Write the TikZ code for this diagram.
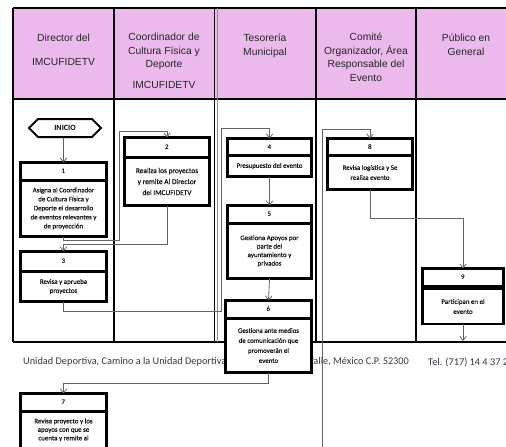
\documentclass[tikz,border=0pt]{standalone}
\usepackage{fontspec}
\setmainfont{Carlito}
\newfontfamily\arialfont{Liberation Sans}
\newfontface\taskfont[FakeBold=0.7]{Carlito}
\usetikzlibrary{positioning,shapes.symbols,arrows.meta}
\definecolor{lanepink}{RGB}{235,185,235}
\definecolor{flowgray}{RGB}{100,100,100}
\definecolor{footgray}{RGB}{60,55,70}

\begin{document}
\begin{tikzpicture}[x=1pt,y=-1pt]
    \tikzstyle{lanehead} = [anchor=north, align=center, inner sep=0pt, text=black!85, font=\arialfont\fontsize{10.3}{13.5}\selectfont]
    \tikzstyle{num} = [draw, line width=2.8pt, fill=white, outer sep=0pt, inner sep=0pt, font=\fontsize{7}{8}\selectfont\bfseries]
    \tikzstyle{task} = [draw, line width=2.8pt, fill=white, outer sep=0pt, inner sep=0pt, align=center, text=black!90, font=\taskfont\fontsize{6.9}{9}\selectfont]
    \tikzstyle{start} = [draw, line width=2pt, fill=white, signal, signal to=west and east, minimum width=72pt, minimum height=18pt, inner sep=0pt, font=\fontsize{8}{9}\selectfont\bfseries]
    \tikzstyle{flow} = [draw=flowgray, line width=0.8pt, -{Straight Barb[length=4pt,width=6.5pt]}]
    \tikzstyle{foot} = [anchor=west, inner sep=0pt, text=footgray, font=\fontsize{10.3}{12}\selectfont]

    \useasboundingbox (0,0) rectangle (506,447);
    \fill[white] (0,0) rectangle (506,447);
    \clip (0,0) rectangle (506,447);

    \fill[lanepink] (13,8) rectangle (512,99);
    \draw[line width=1.4pt] (13,8) -- (512,8);
    \draw[line width=1.4pt] (13,99) -- (512,99);
    \draw[line width=1.4pt] (13,342) -- (512,342);
    \foreach \x in {13,114,316,416}
        \draw[line width=1.4pt] (\x,8) -- (\x,342);
    \draw[line width=1.4pt] (214.5,8) -- (214.5,342);
    \draw[line width=1pt, black!45] (217,8) -- (217,342);

    \node[lanehead, font=\arialfont\fontsize{10.3}{23.5}\selectfont] (h1) at (63.5,34) {Director del\\IMCUFIDETV};
    \node[lanehead] (h2) at (164,31) {\strut Coordinador de\\Cultura Física y\\Deporte\\[7pt]IMCUFIDETV};
    \node[lanehead] (h3) at (265,32) {\strut Tesorería\\Municipal};
    \node[lanehead] (h4) at (366,31) {\strut Comité\\Organizador, Área\\Responsable del\\Evento};
    \node[lanehead] (h5) at (466,32) {\strut Público en\\General};

    \node[foot] (f1) at (23,362) {Unidad Deportiva, Camino a la Unidad Deportiva};
    \node[foot] (f2) at (308,362) {Valle, México C.P. 52300};
    \node[foot] (f3) at (428,362) {Tel. (717) 14 4 37 2};

    \node[start] (ini) at (65,128) {INICIO};

    \node[num, minimum width=86pt, minimum height=18pt, anchor=north west] (n1) at (20.5,162.5) {1};
    \node[task, minimum width=86pt, minimum height=56pt, below=0pt of n1] (b1) {Asigna al Coordinador\\de Cultura Física y\\Deporte el desarrollo\\de eventos relevantes y\\de proyección};

    \node[num, minimum width=85pt, minimum height=20pt, anchor=north west] (n2) at (124.5,137.5) {2};
    \node[task, minimum width=85pt, minimum height=48pt, below=0pt of n2, font=\taskfont\fontsize{7.4}{11}\selectfont] (b2) {Realiza los proyectos\\y remite Al Director\\del IMCUFIDETV};

    \node[num, minimum width=86pt, minimum height=20pt, anchor=north west] (n3) at (20.5,251.5) {3};
    \node[task, minimum width=86pt, minimum height=30pt, below=0pt of n3] (b3) {Revisa y aprueba\\proyectos};

    \node[num, minimum width=84pt, minimum height=17pt, anchor=north west] (n4) at (227.5,138.5) {4};
    \node[task, minimum width=84pt, minimum height=21pt, below=0pt of n4] (b4) {Presupuesto del evento};

    \node[num, minimum width=84pt, minimum height=18pt, anchor=north west] (n5) at (227.5,205.5) {5};
    \node[task, minimum width=84pt, minimum height=55pt, below=0pt of n5, font=\taskfont\fontsize{6.9}{8.5}\selectfont] (b5) {Gestiona Apoyos por\\parte del\\ayuntamiento y\\privados};

    \node[num, minimum width=86pt, minimum height=18pt, anchor=north west] (n6) at (225.5,300.5) {6};
    \node[task, minimum width=86pt, minimum height=54pt, below=0pt of n6, font=\taskfont\fontsize{6.9}{10}\selectfont] (b6) {Gestiona ante medios\\de comunicación que\\promoverán el\\evento};

    \node[num, minimum width=86pt, minimum height=18pt, anchor=north west] (n7) at (20.5,393.5) {7};
    \node[task, minimum width=86pt, inner ysep=7pt, text depth=45pt, below=0pt of n7, font=\taskfont\fontsize{6.9}{8.5}\selectfont] (b7) {Revisa proyecto y los\\apoyos con que se\\cuenta y remite al};

    \node[num, minimum width=85pt, minimum height=17pt, anchor=north west] (n8) at (327.5,138.5) {8};
    \node[task, minimum width=85pt, minimum height=34pt, below=0pt of n8, font=\taskfont\fontsize{6.9}{10}\selectfont] (b8) {Revisa logística y Se\\realiza evento};

    \node[num, minimum width=81pt, minimum height=18pt, anchor=north west] (n9) at (422.5,268.5) {9};
    \node[task, minimum width=81pt, minimum height=35pt, below=2.5pt of n9, font=\taskfont\fontsize{6.9}{10}\selectfont] (b9) {Participan en el\\evento};

    \coordinate (c7) at (322,460);
    \coordinate (e9) at (463,341);

    \draw[flow] (ini.south -| n1.north) -- (n1.north);
    \draw[flow] (b1.south) -- ++(0,4) -| (119,131) -| (n2.north);
    \draw[flow] (b2.south) -- ++(0,39) -| (n3.north);
    \draw[flow] (b3.south) -- ++(0,10) -| (221,128) -| (n4.north);
    \draw[flow] (b4.south) -- (n5.north);
    \draw[flow] (b5.south) -- (n6.north);
    \draw[flow] (b6.south) -- ++(0,11) -| (n7.north);
    \draw[flow] (c7) -- ++(0,-331) -| (n8.north);
    \draw[flow] (b8.south) -- ++(0,29) -| (n9.north);
    \draw[flow] (b9.south) -- (b9.south |- e9);
\end{tikzpicture}
\end{document}
